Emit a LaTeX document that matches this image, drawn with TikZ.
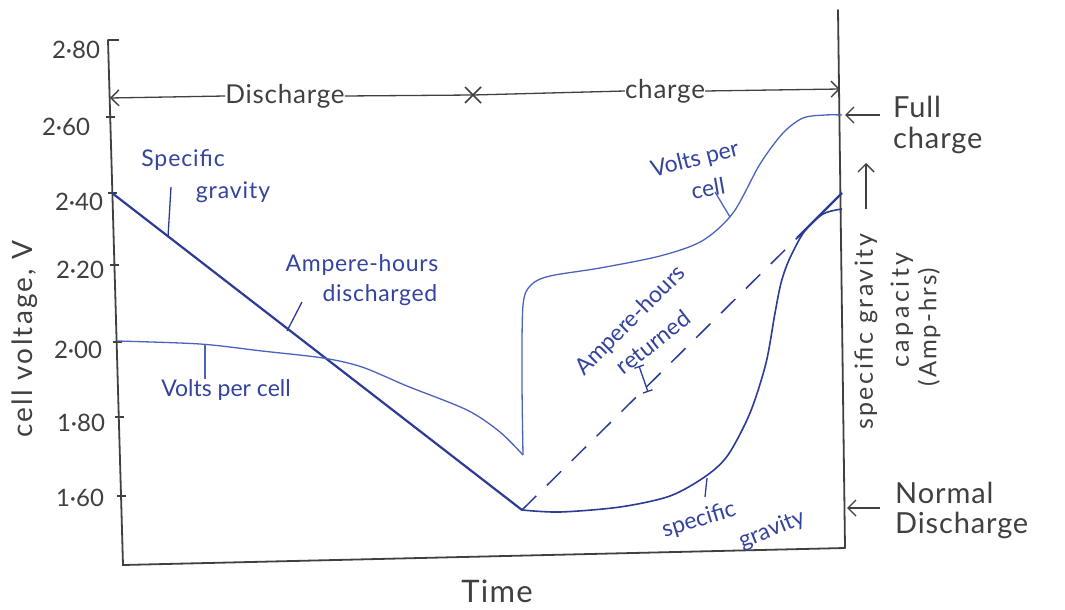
\documentclass[tikz,border=0pt]{standalone}
\usepackage{fontspec}
\setmainfont{Lato}
\usetikzlibrary{arrows.meta}
\definecolor{ink}{HTML}{404040}
\definecolor{pen}{HTML}{2C3C96}
\definecolor{penlight}{HTML}{4A64BE}
\definecolor{pentext}{HTML}{34449E}
\newcommand{\fs}[1]{\fontsize{#1}{#1}\selectfont}
\newcommand{\spaced}[1]{\addfontfeature{LetterSpace=#1}}

\begin{document}
\begin{tikzpicture}[x=1pt,y=-1pt,
  axis/.style={draw=ink,line width=1.8pt,line cap=round},
  tick/.style={draw=ink,line width=1.6pt},
  ticklab/.style={text=ink,inner sep=0pt,font=\fs{24}},
  axlab/.style={text=ink,inner sep=0pt,font=\fs{28}},
  dimline/.style={draw=ink,line width=1.3pt},
  barb/.style={-{Straight Barb[length=8pt,width=16pt,line width=1.4pt]}},
  sgline/.style={draw=pen,line width=2.2pt,line join=round},
  vpcline/.style={draw=penlight,line width=1.3pt,line join=round},
  leader/.style={draw=pen,line width=1.3pt},
  curvelab/.style={text=pentext,inner sep=0pt,font=\fs{23}},
]
% canvas
\fill[white] (0,0) rectangle (1065,610);
\useasboundingbox (0,0) rectangle (1065,610);

% ---------- frame ----------
\coordinate (ytop) at (108,40);
\coordinate (origin) at (123,565);
\coordinate (xend) at (845,548);
\coordinate (rtop) at (838,10);
\draw[axis] (ytop) -- (origin) -- (xend);
\draw[axis] (rtop) -- (xend);
\draw[tick] (ytop) -- (119,40);

% ---------- voltage ticks and labels ----------
\foreach \v/\y/\lx/\ly in {2·60/117/66/127, 2·40/193/79/202, 2·20/265/80/270,
                          2·00/342/78/350, 1·80/417/81/423, 1·60/496/80/498}{
  \pgfmathsetmacro{\ax}{108+0.0286*(\y-40)}
  \draw[tick] (\ax-4,\y) -- (\ax+5,\y);
  \node[ticklab] at (\lx,\ly) {\v};
}
\node[ticklab] (t280) at (76,50) {2·80};

% ---------- axis titles ----------
\node[axlab,rotate=90,font=\fs{28}\spaced{8}] (ylab) at (25,339) {cell voltage, V};
\node[axlab,font=\fs{31}\spaced{4}] (time) at (497,591) {Time};

% ---------- discharge / charge span ----------
\coordinate (spanL) at (110,98);
\coordinate (spanR) at (840,89);
\coordinate (cross) at (473,95);
\node[axlab,font=\fs{26}\spaced{3}] (dis) at (285,96) {Discharge};
\node[axlab,font=\fs{26}\spaced{3}] (chg) at (665,91) {charge};
\draw[dimline,barb] (dis.west) -- (spanL);
\draw[dimline] (dis.east) -- (cross) -- (chg.west);
\draw[dimline,barb] (chg.east) -- (spanR);
\draw[dimline,line width=1.5pt] ([shift={(-8,-8)}]cross) -- ([shift={(8,8)}]cross)
                                ([shift={(-8,8)}]cross) -- ([shift={(8,-8)}]cross);

% ---------- right-hand markers ----------
\coordinate (fullTip) at (845,115);
\coordinate (fullTail) at (880,115);
\coordinate (normTip) at (847,508);
\coordinate (normTail) at (880,508);
\draw[dimline,barb] (fullTail) -- (fullTip);
\draw[dimline,barb] (normTail) -- (normTip);
\node[axlab,font=\fs{29}\spaced{3},anchor=west] (full) at (893,107) {Full};
\node[axlab,font=\fs{29}\spaced{3},anchor=west] (fullc) at (893,140) {charge};
\node[axlab,font=\fs{29}\spaced{3},anchor=west] (norm) at (895,493) {Normal};
\node[axlab,font=\fs{29}\spaced{3},anchor=west] (normd) at (895,525) {Discharge};

% ---------- right axis titles ----------
\node[axlab,rotate=90,font=\fs{25}\spaced{10}] (sgtitle) at (866,332) {specific gravity};
\coordinate (sgArrowTail) at (866,209);
\coordinate (sgArrowTip) at (866,163);
\draw[dimline,barb] (sgArrowTail) -- (sgArrowTip);
\node[axlab,rotate=90,font=\fs{25}\spaced{14}] (captitle) at (902,310) {capacity};
\node[axlab,rotate=90,font=\fs{24}\spaced{8}] (amptitle) at (929,327) {(Amp-hrs)};

% ---------- specific gravity, discharge ----------
\coordinate (sgStart) at (112,193);
\coordinate (sgMin) at (522,510);
\draw[sgline] (sgStart) -- (sgMin);

% ---------- specific gravity, charge ----------
\draw[vpcline,line width=1.6pt,draw=pen] plot[smooth,tension=0.5] coordinates {
  (522,510) (560,512) (620,507) (670,496) (706,476) (728,455) (750,413)
  (766,363) (775,313) (781,283) (789,260) (804,232) (823,214) (842,209)};

% ---------- ampere-hours returned ----------
\coordinate (ahKnee) at (797,238);
\coordinate (ahEnd) at (842,193);
\draw[draw=pen,line width=1.5pt,dash pattern=on 20pt off 15pt] (sgMin) -- (ahKnee);
\draw[sgline] (ahKnee) -- (ahEnd);

% ---------- volts per cell ----------
\coordinate (vStart) at (117,341);
\coordinate (vLow) at (523,455);
\draw[vpcline] plot[smooth,tension=0.5] coordinates {
  (117,341) (200,344) (262,351) (323,358) (362,367) (407,386) (467,410)
  (500,432) (523,455)};
\draw[vpcline] plot[smooth,tension=0.5] coordinates {
  (523,455) (522,380) (523,305) (531,285) (550,276) (600,268) (660,256)
  (702,241) (733,213) (760,164) (783,133) (803,118) (825,115) (842,115)};

% ---------- curve labels and leaders ----------
\node[curvelab,font=\fs{23}\spaced{4}] (sgA) at (183,160) {Specific};
\node[curvelab,font=\fs{23}\spaced{4}] (sgB) at (233,192) {gravity};
\coordinate (sgAon) at (168,237);
\coordinate (sgAtail) at (171,187);
\draw[leader] (sgAon) -- (sgAtail);

\node[curvelab,font=\fs{23}\spaced{3}] (ahdA) at (362,265) {Ampere-hours};
\node[curvelab,font=\fs{23}\spaced{3}] (ahdB) at (380,295) {discharged};
\coordinate (ahdOn) at (287,331);
\coordinate (ahdTail) at (302,302);
\draw[leader] (ahdOn) -- (ahdTail);

\node[curvelab] (vpcA) at (226,390) {Volts per cell};
\coordinate (vpcAon) at (205,345);
\draw[leader,draw=penlight] (vpcAon) -- (vpcA.north -| vpcAon);

\node[curvelab,rotate=14] (vpcB) at (695,160) {Volts per};
\node[curvelab,rotate=10] (vpcC) at (708,188) {cell};
\coordinate (vpcBon) at (730,217);
\coordinate (vpcBtail) at (715,192);
\draw[leader,draw=penlight] (vpcBon) -- (vpcBtail);

\node[curvelab,rotate=45] (ahrA) at (631,321) {Ampere-hours};
\node[curvelab,rotate=38] (ahrB) at (653,342) {returned};
\coordinate (ahrTop) at (639,366);
\coordinate (ahrBot) at (648,392);
\draw[leader,{Bar[width=10pt]}-{Bar[width=10pt]}] (ahrTop) -- (ahrBot);

\node[curvelab,rotate=17] (sgC) at (699,520) {specific};
\node[curvelab,rotate=22] (sgD) at (772,530) {gravity};
\coordinate (sgCon) at (707,478);
\coordinate (sgCtail) at (705,497);
\draw[leader] (sgCon) -- (sgCtail);
\end{tikzpicture}
\end{document}
